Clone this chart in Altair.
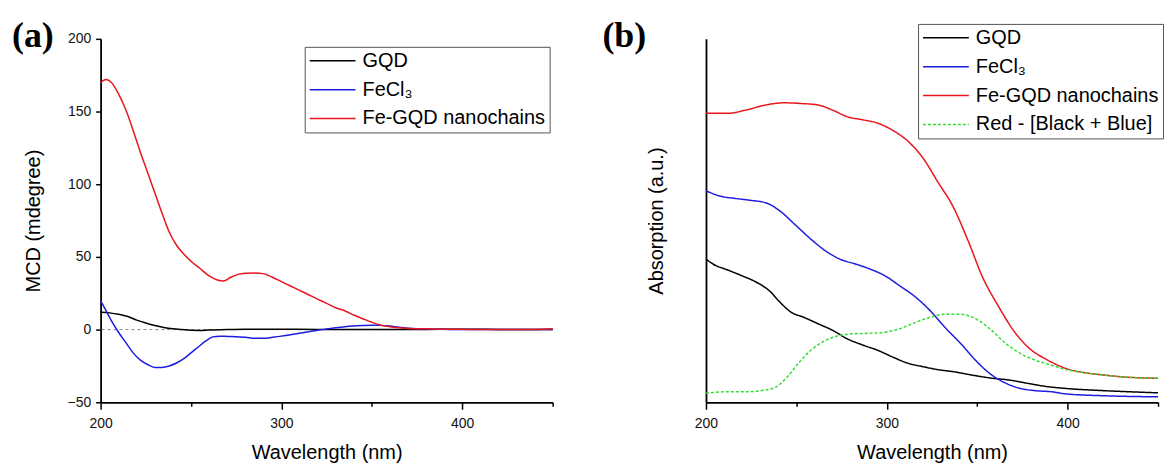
import altair as alt
import pandas as pd

# ---------------- Panel (a): MCD spectra ----------------
a_wl_gqd = [200, 205, 210, 215, 220, 225, 230, 235, 240, 245, 250, 255, 260, 270, 280, 300, 320, 350, 380, 400, 420, 450]
a_gqd = [12, 11.5, 10.5, 9, 6.5, 4.5, 2.8, 1.5, 0.6, 0, -0.5, -0.6, -0.2, 0, 0.2, 0.2, 0.1, 0, 0.1, 0.3, 0.1, 0]

a_wl_fecl3 = [200, 203, 206, 210, 214, 218, 222, 226, 230, 234, 238, 242, 246, 250, 254, 258, 262, 266, 270, 275,
              280, 285, 290, 295, 300, 305, 310, 315, 320, 325, 330, 335, 340, 345, 350, 355, 360, 365, 370, 375,
              380, 390, 400, 420, 450]
a_fecl3 = [20, 13, 6, -2, -9, -16, -21, -24, -26, -26, -25, -23, -20, -16, -12, -8, -5, -4.5, -4.7, -5,
           -5.2, -6, -6, -5.3, -4.5, -3.5, -2.5, -1.5, -0.5, 0.5, 1.3, 2, 2.5, 2.8, 3, 2.9, 2.4, 1.6, 1, 0.6,
           0.4, 0.2, 0, 0, 0]

a_wl_fe = [200, 203, 206, 210, 214, 218, 222, 226, 230, 234, 238, 242, 246, 250, 255, 260, 265, 268, 272, 276,
           280, 285, 290, 295, 300, 305, 310, 315, 320, 325, 330, 335, 340, 345, 350, 355, 360, 365, 370, 380,
           390, 400, 410, 420, 430, 440, 450]
a_fe = [170, 172, 170, 162, 151, 137, 122, 108, 94, 80, 67, 58, 52, 47, 42, 37, 34, 33.5, 36, 38,
        38.8, 39, 38.5, 36, 33, 30, 27, 24, 21, 18, 15, 13, 10, 7.5, 5, 3, 2, 1.2, 0.8, 0.5,
        0.3, 0.2, 0, 0, 0, 0, 0.5]

# ---------------- Panel (b): absorption spectra (a.u.) ----------------
b_wl_gqd = [200, 204, 212, 220, 228, 235, 241, 247, 254, 262, 270, 278, 287, 295, 303, 312, 320, 328, 337, 347,
            357, 368, 378, 389, 399, 420, 450]
b_gqd = [0.394, 0.38, 0.364, 0.348, 0.33, 0.307, 0.275, 0.248, 0.234, 0.216, 0.198, 0.175, 0.157, 0.143, 0.125,
         0.107, 0.098, 0.09, 0.084, 0.075, 0.067, 0.061, 0.052, 0.043, 0.038, 0.032, 0.026]

b_wl_fecl3 = [200, 208, 216, 224, 233, 241, 249, 258, 266, 274, 283, 291, 299, 307, 316, 324, 332, 341, 349, 357,
              366, 374, 382, 391, 399, 420, 450]
b_fecl3 = [0.582, 0.567, 0.561, 0.556, 0.549, 0.526, 0.49, 0.449, 0.417, 0.394, 0.38, 0.366, 0.348, 0.321, 0.289,
           0.252, 0.207, 0.161, 0.116, 0.079, 0.052, 0.038, 0.032, 0.029, 0.023, 0.018, 0.015]

b_wl_fe = [200, 212, 222, 233, 243, 253, 262, 270, 278, 287, 295, 303, 312, 320, 328, 337, 345, 353, 362, 370,
           378, 389, 399, 410, 420, 430, 450]
b_fe = [0.795, 0.795, 0.804, 0.818, 0.824, 0.822, 0.818, 0.804, 0.786, 0.777, 0.768, 0.749, 0.717, 0.672, 0.608,
        0.535, 0.444, 0.344, 0.262, 0.198, 0.152, 0.116, 0.093, 0.081, 0.075, 0.070, 0.066]

b_wl_diff = [200, 212, 222, 233, 239, 245, 251, 258, 266, 274, 283, 291, 299, 307, 316, 324, 332, 341, 349, 357,
             366, 374, 382, 391, 399, 410, 420, 430, 450]
b_diff = [0.025, 0.029, 0.029, 0.034, 0.043, 0.07, 0.107, 0.143, 0.17, 0.184, 0.189, 0.19, 0.193, 0.202, 0.22,
          0.234, 0.242, 0.242, 0.23, 0.202, 0.161, 0.134, 0.116, 0.102, 0.09, 0.081, 0.075, 0.07, 0.066]

SERIES = ["GQD", "FeCl\u2083", "Fe-GQD nanochains", "Red - [Black + Blue]"]
COLORS = ["#000000", "#1c1ce0", "#e8161c", "#33dd33"]
DASHES = [[1, 0], [1, 0], [1, 0], [3, 2]]
PANEL_LABELS = ["(a)", "(b)"]

a_x_ticks = [200, 250, 300, 350, 400, 450]
a_y_ticks = [-50, -25, 0, 25, 50, 75, 100, 125, 150, 175, 200]


def frame(parts, key):
    rows = []
    for label, wl, val in parts:
        for w, v in zip(wl, val):
            rows.append({"wl": w, "val": v, key: label})
    return pd.DataFrame(rows)


df_a = frame([(SERIES[0], a_wl_gqd, a_gqd), (SERIES[1], a_wl_fecl3, a_fecl3), (SERIES[2], a_wl_fe, a_fe)], "sa")
df_b = frame([(SERIES[0], b_wl_gqd, b_gqd), (SERIES[1], b_wl_fecl3, b_fecl3), (SERIES[2], b_wl_fe, b_fe),
              (SERIES[3], b_wl_diff, b_diff)], "sb")
df_zero = pd.DataFrame({"zero": [0]})

FONT = "Liberation Sans"
W, H = 454, 365


def x_enc():
    return alt.X(
        "wl:Q", title="Wavelength (nm)",
        scale=alt.Scale(domain=[200, 450], nice=False, zero=False),
        axis=alt.Axis(values=a_x_ticks,
                      labelExpr="datum.value % 100 === 0 ? datum.label : ''",
                      tickSize={"condition": {"test": "datum.value % 100 === 0", "value": 7}, "value": 4},
                      labelFlush=False, labelPadding=7, titlePadding=12),
    )


def legend(lx, ly):
    return alt.Legend(orient="none", legendX=lx, legendY=ly, symbolType="stroke", symbolSize=2116,
                      symbolStrokeWidth=1.5, labelFontSize=20, labelFont=FONT, labelColor="#000",
                      labelLimit=400, clipHeight=20, rowPadding=9, padding=4, strokeColor="#555",
                      fillColor="white", labelOffset=6)


def panel_label(text, dx):
    return alt.Chart(pd.DataFrame({"lab": [text]})).mark_text(
        font="Liberation Serif", fontSize=36, fontWeight="bold", color="#000",
        align="left", baseline="alphabetic"
    ).encode(text="lab:N", x=alt.value(dx), y=alt.value(8))


lines_a = alt.Chart(df_a).mark_line(strokeWidth=1.5, interpolate="monotone").encode(
    x=x_enc(),
    y=alt.Y("val:Q", title="MCD (mdegree)",
            scale=alt.Scale(domain=[-50, 200], nice=False, zero=False),
            axis=alt.Axis(values=a_y_ticks,
                          labelExpr="datum.value % 50 === 0 ? datum.label : ''",
                          labelFlush=False,
                          tickSize=5, labelPadding=5, titlePadding=24)),
    color=alt.Color("sa:N", title=None, scale=alt.Scale(domain=SERIES[:3], range=COLORS[:3]),
                    legend=legend(205, 8)),
)
zero_a = alt.Chart(df_zero).mark_rule(color="#888", strokeDash=[3, 3], strokeWidth=1).encode(
    y=alt.Y("zero:Q"))

panel_a = alt.layer(zero_a, lines_a, panel_label(PANEL_LABELS[0], -89)).properties(width=W, height=H)

lines_b = alt.Chart(df_b).mark_line(strokeWidth=1.5, interpolate="monotone").encode(
    x=x_enc(),
    y=alt.Y("val:Q", title="Absorption (a.u.)",
            scale=alt.Scale(domain=[0, 1], nice=False, zero=False),
            axis=alt.Axis(labels=False, ticks=False, titlePadding=40)),
    color=alt.Color("sb:N", title=None, scale=alt.Scale(domain=SERIES, range=COLORS),
                    legend=legend(213, -15)),
    strokeDash=alt.StrokeDash("sb:N", title=None, scale=alt.Scale(domain=SERIES, range=DASHES),
                              legend=legend(213, -15)),
)
panel_b = alt.layer(lines_b, panel_label(PANEL_LABELS[1], -104)).properties(width=W, height=H)

chart = alt.hconcat(panel_a, panel_b, spacing=154, bounds="flush").resolve_scale(
    color="independent", strokeDash="independent"
).resolve_legend(color="independent", strokeDash="independent").properties(
    padding={"left": 4, "top": 9, "right": 0, "bottom": 0}
).configure_view(strokeWidth=0).configure_axis(
    grid=False, domainColor="#000", domainWidth=1.8, tickColor="#000", tickWidth=1.5,
    labelFont=FONT, labelFontSize=14, labelColor="#111", titleFont=FONT, titleFontSize=20,
    titleFontWeight="normal", titleColor="#000",
)

chart.save("out.html", embed_options={"renderer": "svg", "actions": False})
